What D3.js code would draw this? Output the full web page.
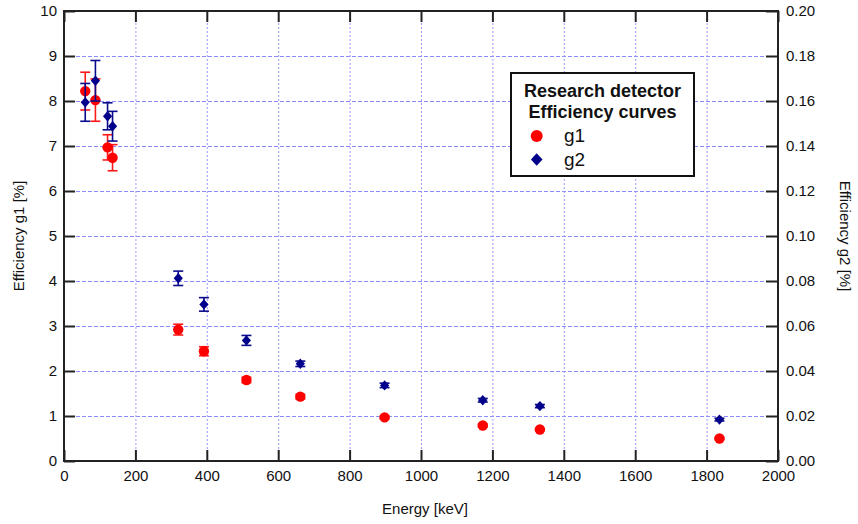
<!DOCTYPE html>
<html>
<head>
<meta charset="utf-8">
<script src="https://cdn.jsdelivr.net/npm/d3@7.9.0/dist/d3.min.js"></script>
<style>
  body { margin: 0; background: #fff; }
  svg { font-family: "Liberation Sans", Arial, sans-serif; }
  .tick text { font-size: 15px; fill: #111; font-family: "Liberation Sans", Arial, sans-serif; }
  .tick line { stroke: #222; stroke-width: 2; }
</style>
</head>
<body>
<svg width="858" height="524"></svg>
<script>
// energies of the calibration lines [keV]
const energies = [59.5, 88, 122, 136, 320, 392, 511, 662, 898, 1173, 1333, 1836];
// g1 efficiency [%] (left axis)
const g1 = [8.22, 8.02, 6.97, 6.74, 2.92, 2.44, 1.80, 1.43, 0.97, 0.79, 0.70, 0.50];
const g1Err = [0.42, 0.47, 0.28, 0.29, 0.12, 0.10, 0.06, 0.05, 0.03, 0.03, 0.02, 0.02];
// g2 efficiency [%] (right axis)
const g2 = [0.1594, 0.169, 0.1532, 0.1488, 0.0812, 0.0696, 0.0536, 0.0432, 0.0336, 0.027, 0.0244, 0.0184];
const g2Err = [0.0084, 0.009, 0.006, 0.0066, 0.0032, 0.003, 0.0022, 0.0012, 0.001, 0.0008, 0.0007, 0.0006];

const xTicks = d3.range(0, 2001, 200);
const yLeftTicks = d3.range(0, 11, 1);
const yRightTicks = d3.range(0, 0.2001, 0.02);

const svg = d3.select('svg');
const plotL = 64, plotR = 778, plotT = 11, plotB = 461;

const x = d3.scaleLinear().domain([0, 2000]).range([plotL, plotR]);
const y1 = d3.scaleLinear().domain([0, 10]).range([plotB, plotT]);
const y2 = d3.scaleLinear().domain([0, 0.2]).range([plotB, plotT]);

// grid
const grid = svg.append('g');
grid.selectAll('.hg')
  .data(yLeftTicks.slice(1, -1))
  .join('line')
  .attr('x1', plotL).attr('x2', plotR)
  .attr('y1', d => y1(d) + 0.5).attr('y2', d => y1(d) + 0.5)
  .attr('stroke', '#8c8cff').attr('stroke-width', 1)
  .attr('stroke-dasharray', '4,2');
grid.selectAll('.vg')
  .data(xTicks.slice(1, -1))
  .join('line')
  .attr('x1', d => x(d) + 0.5).attr('x2', d => x(d) + 0.5)
  .attr('y1', plotT).attr('y2', plotB)
  .attr('stroke', '#9a9aff').attr('stroke-width', 1)
  .attr('stroke-dasharray', '2,2');

// axes, ticks pointing inward
svg.append('g')
  .attr('transform', `translate(0,${plotB})`)
  .call(d3.axisBottom(x).tickValues(xTicks).tickSizeInner(-11).tickSizeOuter(0).tickPadding(9).tickFormat(d3.format('d')))
  .call(g => g.select('.domain').remove());
svg.append('g')
  .attr('transform', `translate(0,${plotT})`)
  .call(d3.axisTop(x).tickValues(xTicks).tickSizeInner(-11).tickSizeOuter(0).tickFormat(''))
  .call(g => g.select('.domain').remove());
svg.append('g')
  .attr('transform', `translate(${plotL},0)`)
  .call(d3.axisLeft(y1).tickValues(yLeftTicks).tickSizeInner(-11).tickSizeOuter(0).tickPadding(7).tickFormat(d3.format('d')))
  .call(g => g.select('.domain').remove());
svg.append('g')
  .attr('transform', `translate(${plotR},0)`)
  .call(d3.axisRight(y2).tickValues(yRightTicks).tickSizeInner(-12).tickSizeOuter(0).tickPadding(8).tickFormat(d3.format('.2f')))
  .call(g => g.select('.domain').remove());

// frame
svg.append('rect')
  .attr('x', plotL).attr('y', plotT)
  .attr('width', plotR - plotL).attr('height', plotB - plotT)
  .attr('fill', 'none').attr('stroke', '#222').attr('stroke-width', 2);

// axis titles
svg.append('text')
  .attr('x', (plotL + plotR) / 2 + 4).attr('y', 514)
  .attr('text-anchor', 'middle').attr('font-size', 15).attr('fill', '#111')
  .text('Energy [keV]');
svg.append('text')
  .attr('transform', `translate(19,${(plotT + plotB) / 2}) rotate(-90)`)
  .attr('text-anchor', 'middle').attr('dy', '0.35em').attr('font-size', 15).attr('fill', '#111')
  .text('Efficiency g1 [%]');
svg.append('text')
  .attr('transform', `translate(845,${(plotT + plotB) / 2}) rotate(90)`)
  .attr('text-anchor', 'middle').attr('dy', '0.35em').attr('font-size', 15).attr('fill', '#111')
  .text('Efficiency g2 [%]');

const diamond = (w, h) => `M0,${-h}L${w},0L0,${h}L${-w},0Z`;

function errorBars(vals, errs, ys, color) {
  const g = svg.append('g').attr('stroke', color).attr('stroke-width', 1.6).attr('fill', 'none');
  energies.forEach((e, i) => {
    const cx = x(e);
    const yt = ys(vals[i] + errs[i]), yb = ys(vals[i] - errs[i]);
    g.append('line').attr('x1', cx).attr('x2', cx).attr('y1', yt).attr('y2', yb);
    g.append('line').attr('x1', cx - 5).attr('x2', cx + 5).attr('y1', yt).attr('y2', yt);
    g.append('line').attr('x1', cx - 5).attr('x2', cx + 5).attr('y1', yb).attr('y2', yb);
  });
}

// g1 series
errorBars(g1, g1Err, y1, '#ff1a1a');
svg.append('g').selectAll('circle')
  .data(energies)
  .join('circle')
  .attr('cx', d => x(d))
  .attr('cy', (d, i) => y1(g1[i]))
  .attr('r', 5.2)
  .attr('fill', '#ff0000');

// g2 series
errorBars(g2, g2Err, y2, '#0a0a8c');
svg.append('g').selectAll('path')
  .data(energies)
  .join('path')
  .attr('transform', (d, i) => `translate(${x(d)},${y2(g2[i])})`)
  .attr('d', diamond(4.6, 5.2))
  .attr('fill', '#00008b');

// legend
const lg = svg.append('g');
lg.append('rect')
  .attr('x', 511).attr('y', 73).attr('width', 183).attr('height', 103)
  .attr('fill', '#fff').attr('stroke', '#111').attr('stroke-width', 2);
lg.append('text')
  .attr('x', 602.5).attr('y', 96.5).attr('text-anchor', 'middle')
  .attr('font-size', 18).attr('font-weight', 'bold').attr('fill', '#111')
  .text('Research detector');
lg.append('text')
  .attr('x', 602.5).attr('y', 117.5).attr('text-anchor', 'middle')
  .attr('font-size', 18).attr('font-weight', 'bold').attr('fill', '#111')
  .text('Efficiency curves');
lg.append('circle').attr('cx', 536.7).attr('cy', 136).attr('r', 6).attr('fill', '#ff0000');
lg.append('path').attr('transform', 'translate(536.7,159.5)').attr('d', diamond(5.8, 6.2)).attr('fill', '#00008b');
lg.append('text').attr('x', 564).attr('y', 142).attr('font-size', 19).attr('fill', '#111').text('g1');
lg.append('text').attr('x', 564).attr('y', 165.5).attr('font-size', 19).attr('fill', '#111').text('g2');
</script>
</body>
</html>
